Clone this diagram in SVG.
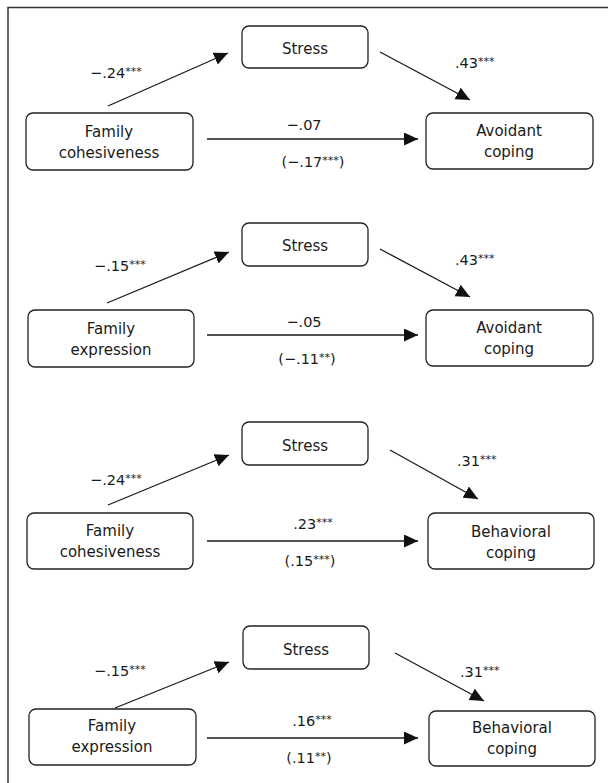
<svg xmlns="http://www.w3.org/2000/svg" width="608" height="783" viewBox="0 0 608 783">
<style>
.bx{fill:#fff;stroke:#222;stroke-width:1.3}
.nt{font-family:"DejaVu Sans",sans-serif;font-size:15px;fill:#1a1a1a;text-anchor:middle}
.lb{font-family:"DejaVu Sans",sans-serif;font-size:14.5px;fill:#1a1a1a}
.mid{text-anchor:middle}
.st{font-size:11px}
.ln{stroke:#1a1a1a;stroke-width:1.3;fill:none;marker-end:url(#ah)}
.fr{stroke:#333;stroke-width:1.5;fill:none}
</style>
<defs>
<marker id="ah" markerUnits="userSpaceOnUse" markerWidth="16" markerHeight="14" refX="14" refY="6.5" orient="auto">
<path d="M0,0 L14,6.5 L0,13 Z" fill="#111"/>
</marker>
</defs>
<rect width="608" height="783" fill="#fff"/>
<path class="fr" d="M8,783 L8,7.5 L608,7.5"/>

<!-- Panel 1 -->
<g id="p1-stress"><rect class="bx" x="242" y="26" width="126" height="42" rx="7"/><text class="nt" x="305" y="54">Stress</text></g>
<g id="p1-family"><rect class="bx" x="26" y="113" width="167" height="57" rx="7"/><text class="nt" x="109" y="137">Family</text><text class="nt" x="109" y="158">cohesiveness</text></g>
<g id="p1-outcome"><rect class="bx" x="426" y="113" width="167" height="56" rx="7"/><text class="nt" x="509" y="136">Avoidant</text><text class="nt" x="509" y="157">coping</text></g>

<!-- Panel 2 -->
<g id="p2-stress"><rect class="bx" x="242" y="223" width="126" height="43" rx="7"/><text class="nt" x="305" y="251">Stress</text></g>
<g id="p2-family"><rect class="bx" x="28" y="310" width="166" height="57" rx="7"/><text class="nt" x="111" y="334">Family</text><text class="nt" x="111" y="355">expression</text></g>
<g id="p2-outcome"><rect class="bx" x="426" y="310" width="167" height="56" rx="7"/><text class="nt" x="509" y="333">Avoidant</text><text class="nt" x="509" y="354">coping</text></g>

<!-- Panel 3 -->
<g id="p3-stress"><rect class="bx" x="242" y="422" width="126" height="43" rx="7"/><text class="nt" x="305" y="451">Stress</text></g>
<g id="p3-family"><rect class="bx" x="27" y="513" width="166" height="56" rx="7"/><text class="nt" x="110" y="536">Family</text><text class="nt" x="110" y="557">cohesiveness</text></g>
<g id="p3-outcome"><rect class="bx" x="428" y="513" width="166" height="56" rx="7"/><text class="nt" x="511" y="537">Behavioral</text><text class="nt" x="511" y="558">coping</text></g>

<!-- Panel 4 -->
<g id="p4-stress"><rect class="bx" x="243" y="626" width="126" height="43" rx="7"/><text class="nt" x="306" y="655">Stress</text></g>
<g id="p4-family"><rect class="bx" x="29" y="709" width="167" height="56" rx="7"/><text class="nt" x="112" y="731">Family</text><text class="nt" x="112" y="752">expression</text></g>
<g id="p4-outcome"><rect class="bx" x="429" y="711" width="166" height="55" rx="7"/><text class="nt" x="512" y="733">Behavioral</text><text class="nt" x="512" y="754">coping</text></g>

<g id="connectors">
<line class="ln" x1="108" y1="106" x2="228" y2="53"/>
<line class="ln" x1="380" y1="52" x2="470" y2="100"/>
<line class="ln" x1="207" y1="139" x2="418" y2="139"/>

<line class="ln" x1="107" y1="303" x2="229" y2="252"/>
<line class="ln" x1="380" y1="249" x2="470" y2="297"/>
<line class="ln" x1="207" y1="335" x2="418" y2="335"/>

<line class="ln" x1="108" y1="505" x2="229" y2="455"/>
<line class="ln" x1="390" y1="450" x2="478" y2="499"/>
<line class="ln" x1="207" y1="541" x2="418" y2="541"/>

<line class="ln" x1="115" y1="708" x2="229" y2="662"/>
<line class="ln" x1="395" y1="653" x2="484" y2="701"/>
<line class="ln" x1="207" y1="738" x2="418" y2="738"/>
</g>

<g id="labels">
<text class="lb" x="90" y="78">−.24<tspan class="st" dy="-3">***</tspan></text>
<text class="lb" x="455" y="68">.43<tspan class="st" dy="-3">***</tspan></text>
<text class="lb mid" x="304" y="130">−.07</text>
<text class="lb mid" x="313" y="167">(−.17<tspan class="st" dy="-3">***</tspan><tspan dy="3">)</tspan></text>

<text class="lb" x="94" y="271">−.15<tspan class="st" dy="-3">***</tspan></text>
<text class="lb" x="455" y="265">.43<tspan class="st" dy="-3">***</tspan></text>
<text class="lb mid" x="304" y="327">−.05</text>
<text class="lb mid" x="307" y="364">(−.11<tspan class="st" dy="-3">**</tspan><tspan dy="3">)</tspan></text>

<text class="lb" x="90" y="485">−.24<tspan class="st" dy="-3">***</tspan></text>
<text class="lb" x="457" y="466">.31<tspan class="st" dy="-3">***</tspan></text>
<text class="lb mid" x="313" y="529">.23<tspan class="st" dy="-3">***</tspan></text>
<text class="lb mid" x="310" y="566">(.15<tspan class="st" dy="-3">***</tspan><tspan dy="3">)</tspan></text>

<text class="lb" x="94" y="676">−.15<tspan class="st" dy="-3">***</tspan></text>
<text class="lb" x="460" y="677">.31<tspan class="st" dy="-3">***</tspan></text>
<text class="lb mid" x="312" y="726">.16<tspan class="st" dy="-3">***</tspan></text>
<text class="lb mid" x="309" y="763">(.11<tspan class="st" dy="-3">**</tspan><tspan dy="3">)</tspan></text>
</g>
</svg>
